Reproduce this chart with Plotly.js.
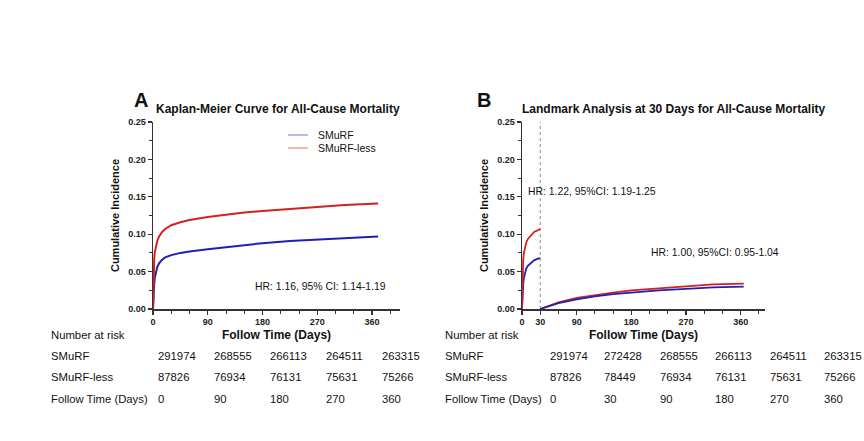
<!DOCTYPE html>
<html><head><meta charset="utf-8">
<script src="https://cdn.plot.ly/plotly-3.0.1.min.js"></script>
<style>html,body{margin:0;padding:0;background:#fff}</style>
</head><body><div id="chart" style="width:864px;height:441px"></div>
<script>
// ---- Data ----
const daysA = [0, 0.5, 1, 2, 3, 5, 7, 10, 15, 20, 30, 45, 60, 90, 120, 150, 180, 225, 270, 315, 370];
const smurfA = [0, 0.012, 0.022, 0.034, 0.042, 0.051, 0.056, 0.061, 0.066, 0.069, 0.072, 0.075, 0.077, 0.080, 0.083, 0.086, 0.088, 0.091, 0.093, 0.095, 0.097];
const lessA  = [0, 0.030, 0.050, 0.068, 0.076, 0.086, 0.091, 0.097, 0.103, 0.107, 0.112, 0.116, 0.119, 0.123, 0.126, 0.129, 0.131, 0.134, 0.137, 0.139, 0.141];

const daysB1 = [0, 0.5, 1, 2, 3, 5, 7, 10, 15, 20, 25, 30];
const smurfB1 = [0, 0.012, 0.022, 0.034, 0.041, 0.049, 0.054, 0.058, 0.062, 0.065, 0.067, 0.068];
const lessB1  = [0, 0.030, 0.050, 0.066, 0.074, 0.084, 0.089, 0.094, 0.099, 0.103, 0.105, 0.107];

const daysB2 = [30, 45, 60, 90, 120, 150, 180, 225, 270, 315, 365];
const smurfB2 = [0, 0.004, 0.008, 0.013, 0.017, 0.020, 0.022, 0.025, 0.027, 0.029, 0.030];
const lessB2  = [0, 0.005, 0.009, 0.015, 0.019, 0.022, 0.025, 0.028, 0.031, 0.033, 0.034];

const groups = ["SMuRF", "SMuRF-less"];
const riskTimesA = ["0", "90", "180", "270", "360"];
const riskSmurfA = ["291974", "268555", "266113", "264511", "263315"];
const riskLessA  = ["87826", "76934", "76131", "75631", "75266"];
const riskTimesB = ["0", "30", "90", "180", "270", "360"];
const riskSmurfB = ["291974", "272428", "268555", "266113", "264511", "263315"];
const riskLessB  = ["87826", "78449", "76934", "76131", "75631", "75266"];

const titleA = "Kaplan-Meier Curve for All-Cause Mortality";
const titleB = "Landmark Analysis at 30 Days for All-Cause Mortality";
const hrA = "HR: 1.16, 95% CI: 1.14-1.19";
const hrB1 = "HR: 1.22, 95%CI: 1.19-1.25";
const hrB2 = "HR: 1.00, 95%CI: 0.95-1.04";

// ---- Layout helpers ----
const W = 864, H = 441;
const px = x => x / W, py = y => 1 - y / H;
const BLUE = "#1f1fb4", RED = "#d42020";
const FONT = "Liberation Sans, Arial, sans-serif";

const traces = [
  {x: daysA, y: smurfA, xaxis: "x", yaxis: "y", mode: "lines", line: {color: BLUE, width: 2}},
  {x: daysA, y: lessA, xaxis: "x", yaxis: "y", mode: "lines", line: {color: RED, width: 2}},
  {x: daysB1, y: smurfB1, xaxis: "x2", yaxis: "y2", mode: "lines", line: {color: BLUE, width: 1.8}},
  {x: daysB1, y: lessB1, xaxis: "x2", yaxis: "y2", mode: "lines", line: {color: RED, width: 1.8}},
  {x: daysB2, y: lessB2, xaxis: "x2", yaxis: "y2", mode: "lines", line: {color: RED, width: 1.8}},
  {x: daysB2, y: smurfB2, xaxis: "x2", yaxis: "y2", mode: "lines", line: {color: BLUE, width: 1.8}}
];

const tickFont = {family: FONT, size: 9, color: "#222", weight: 700};
function xAxis(domain, range, tickvals) {
  return {
    domain: domain, range: range, tickmode: "array", tickvals: tickvals, ticktext: tickvals.map(String),
    showgrid: false, zeroline: false, showline: true, linecolor: "#333", linewidth: 1.5,
    ticks: "outside", ticklen: 4, tickwidth: 1.2, tickcolor: "#333", tickfont: tickFont,
    minor: {dtick: 30, tick0: 0, ticks: "outside", ticklen: 3, tickwidth: 1, tickcolor: "#333", showgrid: false},
    title: {text: "Follow Time (Days)", font: {family: FONT, size: 12, color: "#111", weight: 700}, standoff: 4},
    fixedrange: true
  };
}
function yAxis(anchor) {
  return {
    domain: [py(309), py(122)], range: [0, 0.25], anchor: anchor,
    tickmode: "array", tickvals: [0, 0.05, 0.10, 0.15, 0.20, 0.25], tickformat: ".2f",
    showgrid: false, zeroline: false, showline: true, linecolor: "#333", linewidth: 1.5,
    ticks: "outside", ticklen: 4, tickwidth: 1.2, tickcolor: "#333", tickfont: tickFont,
    minor: {dtick: 0.025, tick0: 0, ticks: "outside", ticklen: 3, tickwidth: 1, tickcolor: "#333", showgrid: false},
    title: {text: "Cumulative Incidence", font: {family: FONT, size: 11, color: "#111", weight: 700}, standoff: 6},
    fixedrange: true
  };
}

const annotations = [];
function txt(text, x, y, size, bold, anchor) {
  annotations.push({xref: "paper", yref: "paper", x: px(x), y: py(y), text: text, showarrow: false,
    xanchor: anchor || "left", yanchor: "middle", borderpad: 0,
    font: {family: FONT, size: size, color: "#111", weight: bold ? 700 : 400}});
}
txt("A", 133, 100, 20, true);
txt(titleA, 278, 109, 12, true, "center");
txt("B", 476, 100, 20, true);
txt(titleB, 674, 109, 12, true, "center");
txt(hrA, 254, 286, 10.4, false);
txt(hrB1, 527, 191, 10.4, false);
txt(hrB2, 650, 252, 10.4, false);

// legend (drawn as key lines + text)
const shapes = [];
const legendY = [135, 148];
const legendColors = ["#8a8ae0", "#e08a8a"];
groups.forEach((g, i) => {
  shapes.push({type: "line", xref: "paper", yref: "paper", x0: px(288), x1: px(308), y0: py(legendY[i]), y1: py(legendY[i]),
    line: {color: legendColors[i], width: 1.2}});
  txt(g, 317, legendY[i], 10.5, false);
});

// Number at risk tables
const rowY = [335, 356, 377, 399];
const colXA = [157, 213, 269, 325, 381];
const colXB = [549, 603, 659, 714, 769, 823];
const TS = 11.3;
function table(x0, colX, times, s, l) {
  txt("Number at risk", x0, rowY[0], TS, false);
  txt(groups[0], x0, rowY[1], TS, false);
  txt(groups[1], x0, rowY[2], TS, false);
  txt("Follow Time (Days)", x0, rowY[3], TS, false);
  colX.forEach((cx, i) => {
    txt(s[i], cx, rowY[1], TS, false);
    txt(l[i], cx, rowY[2], TS, false);
    txt(times[i], cx, rowY[3], TS, false);
  });
}
table(50, colXA, riskTimesA, riskSmurfA, riskLessA);
table(444, colXB, riskTimesB, riskSmurfB, riskLessB);

shapes.push({type: "line", xref: "x2", yref: "y2", x0: 30, x1: 30, y0: 0, y1: 0.25,
  line: {color: "#888", width: 1, dash: "dot"}, layer: "below"});

const layout = {
  width: W, height: H, margin: {l: 0, r: 0, t: 0, b: 0},
  paper_bgcolor: "#fff", plot_bgcolor: "#fff",
  font: {family: FONT},
  xaxis: Object.assign(xAxis([px(153), px(400)], [0, 406], [0, 90, 180, 270, 360]), {anchor: "y"}),
  yaxis: yAxis("x"),
  xaxis2: Object.assign(xAxis([px(522), px(765)], [0, 400], [0, 30, 90, 180, 270, 360]), {anchor: "y2"}),
  yaxis2: yAxis("x2"),
  showlegend: false,
  shapes: shapes,
  annotations: annotations
};

Plotly.newPlot("chart", traces, layout, {staticPlot: true});
</script></body></html>
